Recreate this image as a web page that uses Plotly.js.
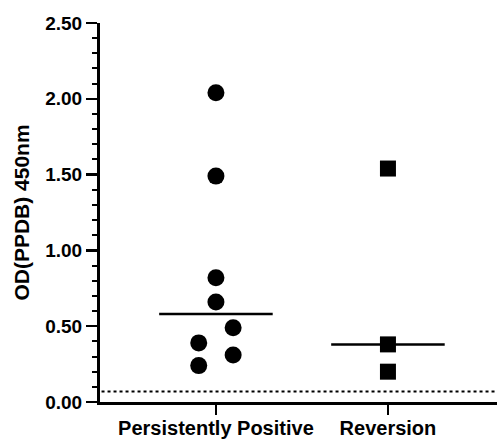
<!DOCTYPE html>
<html>
<head>
<meta charset="utf-8">
<script src="https://cdn.plot.ly/plotly-3.0.1.min.js"></script>
<style>html,body{margin:0;padding:0;background:#fff;}#chart{width:497px;height:440px;}</style>
</head>
<body>
<div id="chart"></div>
<script>
const categories = ["Persistently Positive", "Reversion"];
const groupIndex = [0, 1];
// Persistently Positive values (circles) and horizontal jitter offsets
const ppValues = [2.04, 1.49, 0.82, 0.66, 0.49, 0.39, 0.31, 0.24];
const ppJitter = [0, 0, 0, 0, 0.1, -0.1, 0.1, -0.1];
// Reversion values (squares)
const revValues = [1.54, 0.38, 0.20];
const revJitter = [0, 0, 0];
// Medians (horizontal lines)
const medians = [0.58, 0.38];
const cutoff = 0.07;

const ppX = ppJitter.map(j => groupIndex[0] + j);
const revX = revJitter.map(j => groupIndex[1] + j);
const halfW = 0.33;

const traces = [
  {x: [-0.7, 1.7], y: [cutoff, cutoff], mode: 'lines', line: {color: '#000', width: 2, dash: 'dot'}, hoverinfo: 'skip', showlegend: false},
  {x: [groupIndex[0] - halfW, groupIndex[0] + halfW], y: [medians[0], medians[0]], mode: 'lines', line: {color: '#000', width: 2.5}, showlegend: false},
  {x: [groupIndex[1] - halfW, groupIndex[1] + halfW], y: [medians[1], medians[1]], mode: 'lines', line: {color: '#000', width: 2.5}, showlegend: false},
  {x: ppX, y: ppValues, mode: 'markers', marker: {symbol: 'circle', size: 17, color: '#000'}, showlegend: false},
  {x: revX, y: revValues, mode: 'markers', marker: {symbol: 'square', size: 16, color: '#000'}, showlegend: false}
];

const base = {family: 'Liberation Sans, Arial, sans-serif', color: '#000', weight: 'bold'};

const layout = {
  width: 497, height: 440,
  margin: {l: 100, r: 0, t: 23, b: 38},
  paper_bgcolor: '#fff', plot_bgcolor: '#fff',
  showlegend: false,
  xaxis: {
    range: [-0.674, 1.634],
    tickvals: groupIndex, ticktext: categories,
    ticks: 'outside', ticklen: 10, tickwidth: 2.5, tickcolor: '#000',
    ticklabelstandoff: -4,
    showline: true, linewidth: 3, linecolor: '#000',
    showgrid: false, zeroline: false,
    tickfont: Object.assign({size: 20}, base), automargin: false
  },
  yaxis: {
    range: [0, 2.5],
    tickvals: [0, 0.5, 1, 1.5, 2, 2.5], tickformat: '.2f',
    ticks: 'outside', ticklen: 11, tickwidth: 2.5, tickcolor: '#000',
    minor: {dtick: 0.1, ticks: 'outside', ticklen: 5, tickwidth: 2, tickcolor: '#000', showgrid: false},
    showline: true, linewidth: 3, linecolor: '#000',
    showgrid: false, zeroline: false,
    tickfont: Object.assign({size: 19}, base), automargin: false,
    title: {text: 'OD(PPDB) 450nm', font: Object.assign({size: 21}, base), standoff: 10}
  }
};

Plotly.newPlot('chart', traces, layout, {displayModeBar: false, staticPlot: true});
</script>
</body>
</html>
